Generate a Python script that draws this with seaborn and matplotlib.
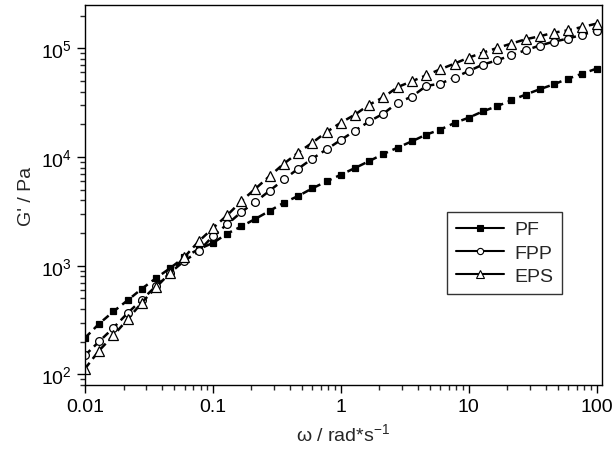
import pandas as pd
import seaborn as sns
import matplotlib.pyplot as plt
from matplotlib.lines import Line2D
from matplotlib.ticker import LogLocator, NullFormatter

# --- data (angular frequency, storage modulus) ---
omega = [0.01, 0.0129, 0.0167, 0.0215, 0.0278, 0.0359, 0.0464, 0.0599, 0.0774,
         0.1, 0.129, 0.167, 0.215, 0.278, 0.359, 0.464, 0.599, 0.774,
         1, 1.29, 1.67, 2.15, 2.78, 3.59, 4.64, 5.99, 7.74,
         10, 12.9, 16.7, 21.5, 27.8, 35.9, 46.4, 59.9, 77.4, 100]

pf = [217, 293, 380, 480, 614, 769, 952, 1200, 1420,
      1620, 1970, 2300, 2700, 3200, 3800, 4380, 5150, 5970,
      6870, 7920, 9190, 10660, 12200, 13940, 16060, 17860, 20570,
      23000, 26300, 29400, 33200, 37500, 42000, 46700, 52600, 58500, 65000]

fpp = [150, 201, 269, 366, 486, 650, 863, 1110, 1355,
       1876, 2400, 3118, 3880, 4900, 6220, 7810, 9660, 11780,
       14340, 17470, 21290, 25050, 31620, 35900, 45000, 47300, 53700,
       61800, 70800, 77600, 86300, 96000, 106000, 115200, 122800, 133600, 144500]

eps = [113, 166, 229, 321, 457, 633, 863, 1203, 1675,
       2220, 2905, 3935, 5115, 6690, 8690, 10970, 13550, 16990,
       20700, 24540, 30350, 35400, 44000, 49700, 56400, 64100, 72300,
       82100, 91200, 100600, 110400, 121000, 129000, 139300, 146400, 157200, 168600]

series = ['PF', 'FPP', 'EPS']

df = pd.DataFrame({
    'omega': omega * 3,
    'G': pf + fpp + eps,
    'sample': [s for s in series for _ in omega],
})

sns.set_style('ticks')
plt.rcParams['font.family'] = ['Liberation Sans', 'DejaVu Sans']
plt.rcParams['mathtext.default'] = 'regular'

fig = plt.figure(figsize=(6.15, 4.56), dpi=100)
ax = fig.add_axes([85 / 615, 1 - 386 / 456, 517 / 615, 380 / 456])

styles = {
    'PF':  dict(marker='s', ms=5.0, mfc='black'),
    'FPP': dict(marker='o', ms=5.6, mfc='white'),
    'EPS': dict(marker='^', ms=7.0, mfc='white'),
}

for s in series:
    sub = df[df['sample'] == s]
    sns.lineplot(data=sub, x='omega', y='G', ax=ax, color='black',
                 lw=1.8, linestyle=(0, (3, 2)), mec='black', mew=0.9,
                 legend=False, **styles[s])

ax.set_xscale('log')
ax.set_yscale('log')
ax.set_xlim(0.01, 110)
ax.set_ylim(80, 2.5e5)

ax.xaxis.set_minor_locator(LogLocator(base=10, subs=range(2, 10)))
ax.yaxis.set_minor_locator(LogLocator(base=10, subs=range(2, 10)))
ax.xaxis.set_minor_formatter(NullFormatter())
ax.yaxis.set_minor_formatter(NullFormatter())
ax.set_xticks([0.01, 0.1, 1, 10, 100])
ax.set_xticklabels(['0.01', '0.1', '1', '10', '100'])

ax.tick_params(which='major', direction='out', length=6, width=1,
               labelsize=14, colors='black')
ax.tick_params(which='minor', direction='out', length=3.5, width=1)
for sp in ax.spines.values():
    sp.set_visible(True)
    sp.set_color('black')
    sp.set_linewidth(1)

ax.set_xlabel('ω / rad*s$^{-1}$', fontsize=14, labelpad=5)
ax.set_ylabel("G' / Pa", fontsize=14, labelpad=4)

handles = [Line2D([], [], color='black', lw=1.5, mec='black', mew=0.8,
                  **{**styles[s], 'ms': styles[s]['ms'] * 0.8})
           for s in series]
leg = fig.legend(handles, series, loc='upper left',
                 bbox_to_anchor=(447 / 615, 1 - 213 / 456),
                 bbox_transform=fig.transFigure, borderaxespad=0,
                 frameon=True, fancybox=False, fontsize=14,
                 handlelength=2.5, handletextpad=0.5, labelspacing=0.3,
                 borderpad=0.45)
leg.get_frame().set_edgecolor('black')
leg.get_frame().set_linewidth(1)

fig.savefig('out.png', dpi=100)
